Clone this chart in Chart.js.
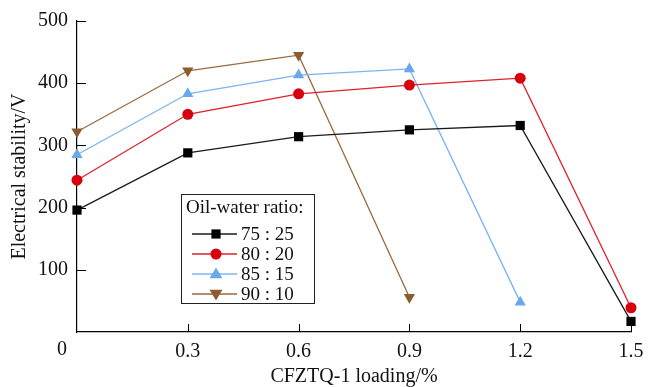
<!DOCTYPE html>
<html lang="en">
<head>
  <meta charset="UTF-8" />
  <title>Electrical stability vs CFZTQ-1 loading</title>
  <script src="https://cdn.jsdelivr.net/npm/chart.js"></script>
  <style>
    html, body { margin: 0; padding: 0; background: #fff; }
    #wrap { width: 648px; height: 387px; position: relative; }
  </style>
</head>
<body>
  <div id="wrap">
    <canvas id="chart" width="648" height="387"></canvas>
  </div>

  <script>
    // data
    const loading = [0, 0.3, 0.6, 0.9, 1.2, 1.5];
    const ratio75 = [196, 288, 314, 325, 332, 17];
    const ratio80 = [244, 350, 383, 397, 408, 39];
    const ratio85 = [285, 383, 413, 423, 48];
    const ratio90 = [322, 420, 445, 56];
    const seriesNames = ['75 : 25', '80 : 20', '85 : 15', '90 : 10'];
    const yTicks = [100, 200, 300, 400, 500];

    const FONT = "'Liberation Serif', 'Times New Roman', serif";

    function pts(vals) {
      return vals.map((v, i) => ({ x: loading[i], y: v }));
    }

    const styles = [
      { line: '#1a1a1a', fill: '#000000', shape: 'rect', r: 6.5, rot: 0 },
      { line: '#e0202a', fill: '#d8000c', shape: 'circle', r: 5.5, rot: 0 },
      { line: '#7ab4f0', fill: '#6aa8ee', shape: 'triangle', r: 6.5, rot: 0 },
      { line: '#9a6a3e', fill: '#8c5c30', shape: 'triangle', r: 6.5, rot: 180 }
    ];
    const seriesData = [ratio75, ratio80, ratio85, ratio90];

    const datasets = seriesData.map((vals, i) => ({
      label: seriesNames[i],
      data: pts(vals),
      borderColor: styles[i].line,
      borderWidth: 1.3,
      backgroundColor: styles[i].fill,
      pointBackgroundColor: styles[i].fill,
      pointBorderColor: styles[i].fill,
      pointBorderWidth: 0,
      pointStyle: styles[i].shape,
      pointRadius: styles[i].r,
      pointRotation: styles[i].rot,
      tension: 0,
      fill: false,
      clip: false
    }));

    function drawMarker(ctx, st, x, y) {
      ctx.save();
      ctx.fillStyle = st.fill;
      ctx.translate(x, y);
      ctx.rotate(st.rot * Math.PI / 180);
      ctx.beginPath();
      if (st.shape === 'rect') {
        const s = st.r * Math.SQRT1_2;
        ctx.rect(-s, -s, 2 * s, 2 * s);
      } else if (st.shape === 'circle') {
        ctx.arc(0, 0, st.r, 0, Math.PI * 2);
      } else {
        const r = st.r;
        ctx.moveTo(0, -r);
        ctx.lineTo(r * 0.866 * 1.15, r * 0.5 + 1);
        ctx.lineTo(-r * 0.866 * 1.15, r * 0.5 + 1);
        ctx.closePath();
      }
      ctx.fill();
      ctx.restore();
    }

    // inward ticks, the corner "0" and the boxed legend
    const decor = {
      id: 'decor',
      afterDatasetsDraw(chart) {
        const ctx = chart.ctx;
        const xs = chart.scales.x, ys = chart.scales.y;
        const a = chart.chartArea;
        ctx.save();
        ctx.strokeStyle = '#000';
        ctx.lineWidth = 1;
        loading.forEach(v => {
          if (v === 0) return;
          const px = Math.round(xs.getPixelForValue(v)) + 0.5;
          ctx.beginPath();
          ctx.moveTo(px, a.bottom);
          ctx.lineTo(px, a.bottom - 8);
          ctx.stroke();
        });
        yTicks.forEach(v => {
          const py = Math.round(ys.getPixelForValue(v)) + 0.5;
          ctx.beginPath();
          ctx.moveTo(a.left, py);
          ctx.lineTo(a.left + 9, py);
          ctx.stroke();
        });

        ctx.fillStyle = '#111';
        ctx.font = '20px ' + FONT;
        ctx.textAlign = 'center';
        ctx.textBaseline = 'middle';
        ctx.fillText('0', a.left - 15, a.bottom + 18);

        // legend box
        const bx = a.left + 104, by = a.top + 173, bw = 133, bh = 109;
        ctx.strokeStyle = '#222';
        ctx.strokeRect(bx + 0.5, by + 0.5, bw, bh);
        ctx.font = '19px ' + FONT;
        ctx.textAlign = 'left';
        ctx.fillText('Oil-water ratio:', bx + 5, by + 14);
        seriesNames.forEach((name, i) => {
          const cy = by + 40 + i * 20;
          ctx.strokeStyle = styles[i].line;
          ctx.lineWidth = 1.3;
          ctx.beginPath();
          ctx.moveTo(bx + 11, cy);
          ctx.lineTo(bx + 56, cy);
          ctx.stroke();
          drawMarker(ctx, styles[i], bx + 35, cy);
          ctx.fillStyle = '#111';
          ctx.fillText(name, bx + 60, cy + 1);
        });
        ctx.restore();
      }
    };

    const ctx = document.getElementById('chart').getContext('2d');
    const chart = new Chart(ctx, {
      type: 'line',
      data: { datasets: datasets },
      plugins: [decor],
      options: {
        responsive: false,
        animation: false,
        layout: { padding: { top: 19, right: 17, left: 0, bottom: 0 } },
        plugins: {
          legend: { display: false },
          tooltip: { enabled: false }
        },
        scales: {
          x: {
            type: 'linear',
            min: 0,
            max: 1.5,
            afterBuildTicks: (scale) => { scale.ticks = loading.map(v => ({ value: v })); },
            afterFit: (scale) => {
              scale.height = 55;
              scale.paddingLeft = 0;
              scale.paddingRight = 0;
            },
            grid: { display: false, drawTicks: false },
            border: { display: true, color: '#000', width: 1.2 },
            ticks: {
              color: '#111',
              padding: 8,
              maxRotation: 0,
              font: { family: FONT, size: 20 },
              callback: (v) => v === 0 ? '' : v.toFixed(1)
            },
            title: {
              display: true,
              text: 'CFZTQ-1 loading/%',
              color: '#111',
              font: { family: FONT, size: 20, lineHeight: 1 },
              padding: { top: 0, bottom: 0 }
            }
          },
          y: {
            min: 0,
            max: 500,
            afterBuildTicks: (scale) => { scale.ticks = [0].concat(yTicks).map(v => ({ value: v })); },
            afterFit: (scale) => { scale.width = 77; },
            grid: { display: false, drawTicks: false },
            border: { display: true, color: '#000', width: 1.2 },
            ticks: {
              color: '#111',
              padding: 9,
              font: { family: FONT, size: 20 },
              callback: (v) => v === 0 ? '' : String(v)
            },
            title: {
              display: true,
              text: 'Electrical stability/V',
              color: '#111',
              font: { family: FONT, size: 20 },
              padding: { top: 8, bottom: 0 }
            }
          }
        }
      }
    });
  </script>
</body>
</html>
